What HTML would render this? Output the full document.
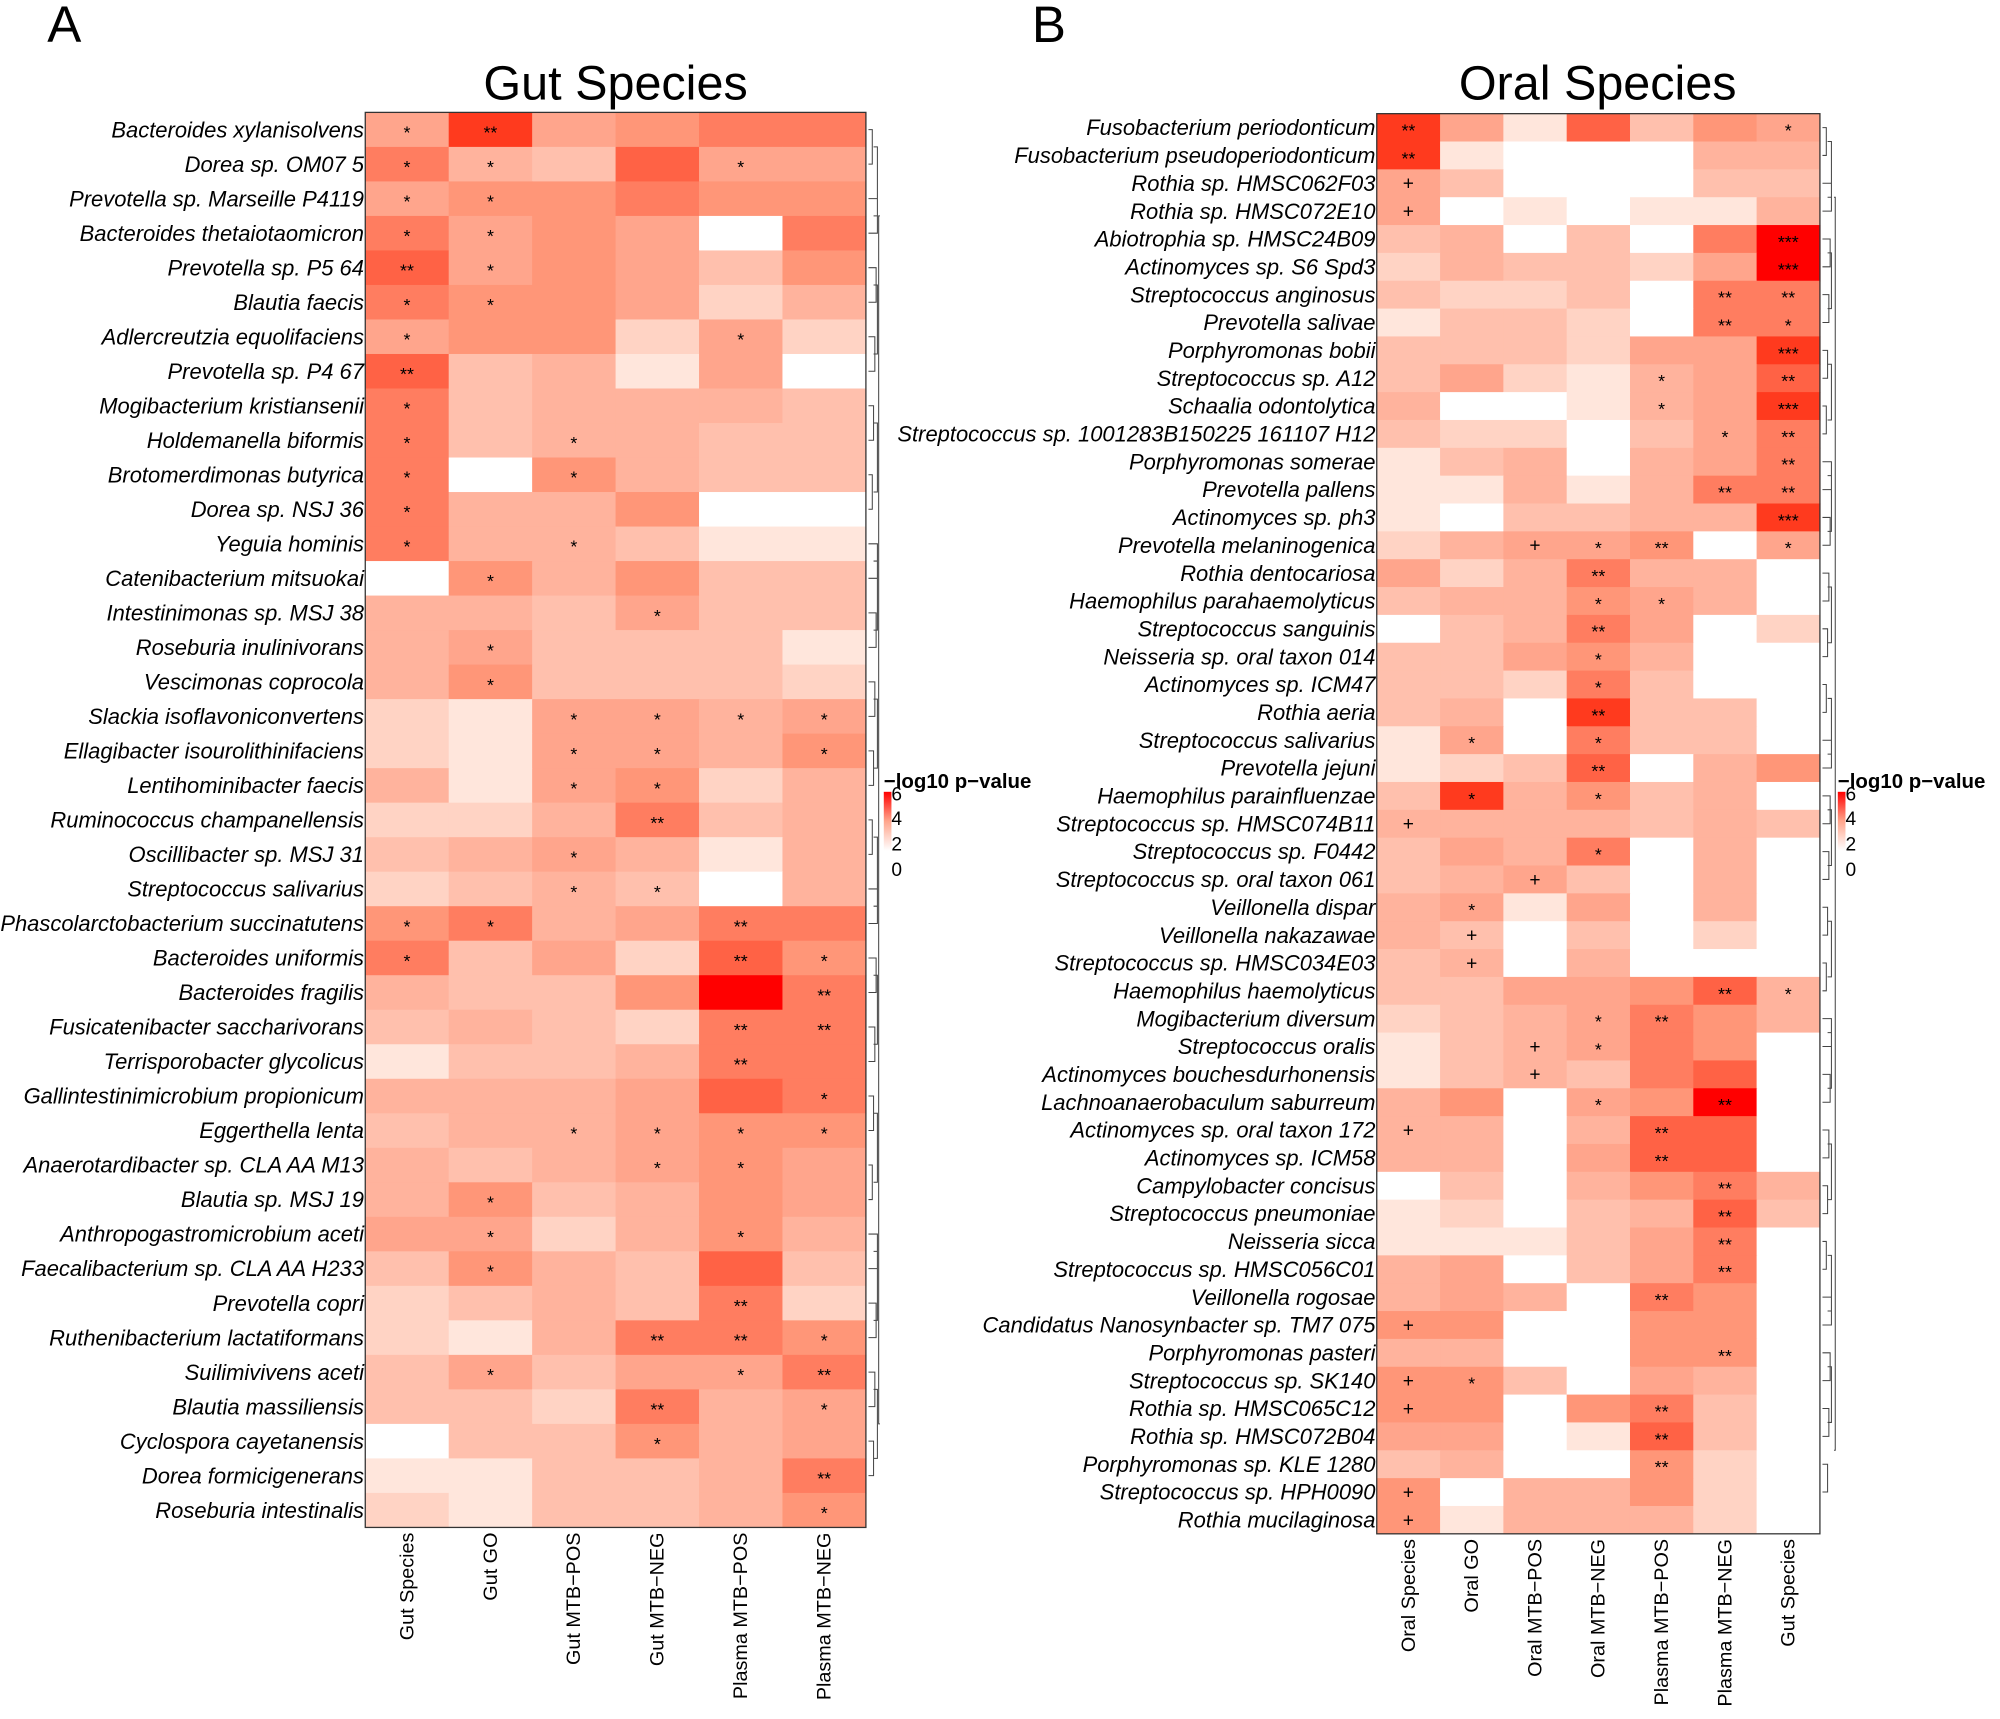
<!DOCTYPE html>
<html><head><meta charset="utf-8"><style>html,body{margin:0;padding:0;background:#fff}svg{display:block}</style></head>
<body>
<svg id="s" xmlns="http://www.w3.org/2000/svg" width="2000" height="1719" viewBox="0 0 1566 1346" preserveAspectRatio="none" font-family="Liberation Sans, sans-serif"></svg>
<script>
const P=['#FFFFFF','#FFE6DC','#FFD3C4','#FFC0AD','#FFB39D','#FFA58C','#FF9678','#FF7D60','#FF6245','#FF3A1E','#FF0000'];
const A=[
["Bacteroides xylanisolvens","595677","*|**"],
["Dorea sp. OM07 5","743855","*|*|||*"],
["Prevotella sp. Marseille P4119","566766","*|*"],
["Bacteroides thetaiotaomicron","756507","*|*"],
["Prevotella sp. P5 64","856536","**|*"],
["Blautia faecis","766524","*|*"],
["Adlercreutzia equolifaciens","566252","*||||*"],
["Prevotella sp. P4 67","834150","**"],
["Mogibacterium kristiansenii","734443","*"],
["Holdemanella biformis","734433","*||*"],
["Brotomerdimonas butyrica","706433","*||*"],
["Dorea sp. NSJ 36","744600","*"],
["Yeguia hominis","744311","*||*"],
["Catenibacterium mitsuokai","064633","|*"],
["Intestinimonas sp. MSJ 38","443533","|||*"],
["Roseburia inulinivorans","453331","|*"],
["Vescimonas coprocola","463332","|*"],
["Slackia isoflavoniconvertens","215545","||*|*|*|*"],
["Ellagibacter isourolithinifaciens","215546","||*|*||*"],
["Lentihominibacter faecis","415624","||*|*"],
["Ruminococcus champanellensis","224734","|||**"],
["Oscillibacter sp. MSJ 31","345414","||*"],
["Streptococcus salivarius","234304","||*|*"],
["Phascolarctobacterium succinatutens","674577","*|*|||**"],
["Bacteroides uniformis","735286","*||||**|*"],
["Bacteroides fragilis","4336a7","|||||**"],
["Fusicatenibacter saccharivorans","343277","||||**|**"],
["Terrisporobacter glycolicus","133477","||||**"],
["Gallintestinimicrobium propionicum","444587","|||||*"],
["Eggerthella lenta","344566","||*|*|*|*"],
["Anaerotardibacter sp. CLA AA M13","434565","|||*|*"],
["Blautia sp. MSJ 19","463465","|*"],
["Anthropogastromicrobium aceti","552464","|*|||*"],
["Faecalibacterium sp. CLA AA H233","364383","|*"],
["Prevotella copri","234372","||||**"],
["Ruthenibacterium lactatiformans","214776","|||**|**|*"],
["Suilimivivens aceti","353557","|*|||*|**"],
["Blautia massiliensis","332745","|||**||*"],
["Cyclospora cayetanensis","033645","|||*"],
["Dorea formicigenerans","113347","|||||**"],
["Roseburia intestinalis","213346","|||||*"]];
const B=[
["Fusobacterium periodonticum","9518365","**||||||*"],
["Fusobacterium pseudoperiodonticum","9100044","**"],
["Rothia sp. HMSC062F03","5300033","+"],
["Rothia sp. HMSC072E10","5010114","+"],
["Abiotrophia sp. HMSC24B09","340307a","||||||***"],
["Actinomyces sp. S6 Spd3","243325a","||||||***"],
["Streptococcus anginosus","3223077","|||||**|**"],
["Prevotella salivae","1332077","|||||**|*"],
["Porphyromonas bobii","3332559","||||||***"],
["Streptococcus sp. A12","3521458","||||*||**"],
["Schaalia odontolytica","4001459","||||*||***"],
["Streptococcus sp. 1001283B150225 161107 H12","3220357","|||||*|**"],
["Porphyromonas somerae","1340457","||||||**"],
["Prevotella pallens","1141477","|||||**|**"],
["Actinomyces sp. ph3","1033449","||||||***"],
["Prevotella melaninogenica","2455605","||+|*|**||*"],
["Rothia dentocariosa","5247440","|||**"],
["Haemophilus parahaemolyticus","3446540","|||*|*"],
["Streptococcus sanguinis","0347502","|||**"],
["Neisseria sp. oral taxon 014","3356400","|||*"],
["Actinomyces sp. ICM47","3327300","|||*"],
["Rothia aeria","3409330","|||**"],
["Streptococcus salivarius","1507330","|*||*"],
["Prevotella jejuni","1238046","|||**"],
["Haemophilus parainfluenzae","3946340","|*||*"],
["Streptococcus sp. HMSC074B11","4444343","+"],
["Streptococcus sp. F0442","3547040","|||*"],
["Streptococcus sp. oral taxon 061","3453040","||+"],
["Veillonella dispar","4515040","|*"],
["Veillonella nakazawae","4303020","|+"],
["Streptococcus sp. HMSC034E03","3404000","|+"],
["Haemophilus haemolyticus","3355684","|||||**|*"],
["Mogibacterium diversum","2345764","|||*|**"],
["Streptococcus oralis","1345760","||+|*"],
["Actinomyces bouchesdurhonensis","1343780","||+"],
["Lachnoanaerobaculum saburreum","46056a0","|||*||**"],
["Actinomyces sp. oral taxon 172","4404880","+||||**"],
["Actinomyces sp. ICM58","4405880","||||**"],
["Campylobacter concisus","0304674","|||||**"],
["Streptococcus pneumoniae","1203483","|||||**"],
["Neisseria sicca","1113570","|||||**"],
["Streptococcus sp. HMSC056C01","4503570","|||||**"],
["Veillonella rogosae","4540760","||||**"],
["Candidatus Nanosynbacter sp. TM7 075","6600660","+"],
["Porphyromonas pasteri","4400660","|||||**"],
["Streptococcus sp. SK140","6630540","+|*"],
["Rothia sp. HMSC065C12","6606730","+||||**"],
["Rothia sp. HMSC072B04","5501830","||||**"],
["Porphyromonas sp. KLE 1280","3400620","||||**"],
["Streptococcus sp. HPH0090","6044620","+"],
["Rothia mucilaginosa","6144420","+"]];
let o='';
function panel(D,x0,x1,y0,y1,cols,title,tx,letter,lx,dx){
  const n=D.length,nc=cols.length,cw=(x1-x0)/nc,rh=(y1-y0)/n;
  D.forEach((r,i)=>{
    const y=y0+i*rh;
    for(let j=0;j<nc;j++){const v=parseInt(r[1][j],16);o+=`<rect x="${x0+j*cw}" y="${y}" width="${cw+0.5}" height="${rh+0.5}" fill="${P[v]}"/>`;}
    o+=`<text x="${x0-1}" y="${y+rh/2+6}" font-size="17.2" font-style="italic" text-anchor="end">${r[0]}</text>`;
    r[2].split('|').forEach((s,j)=>{if(s)o+=`<text x="${x0+(j+0.5)*cw}" y="${y+rh/2+(s=='+'?5:7)}" font-size="${s=='+'?15:14}" text-anchor="middle">${s}</text>`;});
  });
  o+=`<rect x="${x0}" y="${y0}" width="${x1-x0}" height="${y1-y0}" fill="none" stroke="#333" stroke-width="1"/>`;
  cols.forEach((c,j)=>{const cx=x0+(j+0.5)*cw+5;o+=`<text transform="translate(${cx},${y1+4}) rotate(-90)" font-size="15.5" text-anchor="end">${c}</text>`;});
  o+=`<text x="${tx}" y="78" font-size="38" text-anchor="middle">${title}</text>`;
  o+=`<text x="${lx}" y="33" font-size="40">${letter}</text>`;
  let g='';const dx0=x1+2;
  for(let i=0;i<n-1;i+=2){const ya=y0+(i+0.5)*rh,yb=y0+(i+1.5)*rh,w=3+((i*7)%5);g+=`M${dx0} ${ya}H${dx0+w}V${yb}H${dx0}`;}
  for(let i=0;i<n-3;i+=4){const ya=y0+(i+1)*rh,yb=y0+(i+3)*rh,w=7+((i*3)%4);g+=`M${dx0+4} ${ya}H${dx0+w}V${yb}H${dx0+4}`;}
  g+=`M${dx0+9} ${y0+3*rh}H${dx0+dx}V${y1-3*rh}H${dx0+9}`;
  o+=`<path d="${g}" fill="none" stroke="#444" stroke-width="0.8"/>`;
  const lgx=x1+14;
  o+=`<defs><linearGradient id="g${letter}" x1="0" y1="1" x2="0" y2="0"><stop offset="0" stop-color="#fff"/><stop offset="0.5" stop-color="#FFA58C"/><stop offset="1" stop-color="#FF0000"/></linearGradient></defs>`;
  o+=`<rect x="${lgx}" y="620" width="6" height="46" fill="url(#g${letter})"/>`;
  o+=`<text x="${lgx}" y="617" font-size="16" font-weight="bold">−log10 p−value</text>`;
  [[6,627],[4,646],[2,666],[0,686]].forEach(([t,y])=>o+=`<text x="${lgx+6}" y="${y}" font-size="15">${t}</text>`);
}
panel(A,286,678,88,1196,["Gut Species","Gut GO","Gut MTB−POS","Gut MTB−NEG","Plasma MTB−POS","Plasma MTB−NEG"],"Gut Species",482,"A",37,8);
panel(B,1078,1425,89,1201,["Oral Species","Oral GO","Oral MTB−POS","Oral MTB−NEG","Plasma MTB−POS","Plasma MTB−NEG","Gut Species"],"Oral Species",1251,"B",808,10);
document.getElementById('s').innerHTML=o;
</script>
</body></html>
